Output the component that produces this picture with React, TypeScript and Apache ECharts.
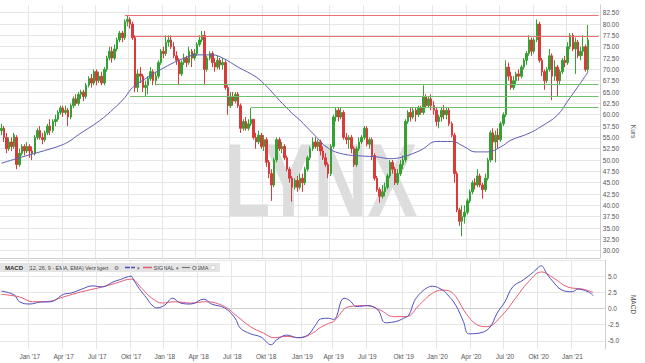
import React, { useEffect, useRef } from "react";
import * as echarts from "echarts";

const FONT = '"Liberation Sans", Arial, Helvetica, sans-serif';

// weekly categories, first Monday of the chart and number of weeks on the axis
const FIRST_WEEK = [2016, 9, 17];
const WEEK_COUNT = 233;

// weekly candles [open, close, low, high]
const candles: number[][] = [
  [56.5, 57, 55.5, 58], [57, 55, 54, 57.5], [55, 52.5, 51.5, 56], [52.5, 54, 52, 55], [54, 53, 52, 55],
  [53, 55.5, 52.5, 56], [55, 49, 48, 55.5], [49, 51.5, 48.5, 52.5], [51.5, 53, 51, 53.5], [53, 52, 51, 53.5],
  [52, 53, 51.5, 54], [53, 52, 50.5, 53.5], [52, 51.5, 50, 53], [51.5, 55, 51, 55.5], [55, 56.5, 54.5, 57],
  [56.5, 55, 54.5, 57.5], [55, 54.5, 53.5, 56], [54.5, 56, 54, 56.5], [56, 57.5, 55.5, 58], [57.5, 56.5, 55.5, 59],
  [56.5, 58.5, 56, 59], [58.5, 59, 57.5, 60], [59, 60.5, 58.5, 61], [60.5, 61.5, 60, 62], [61.5, 60.5, 59.5, 62],
  [60.5, 61, 60, 62], [61, 59.5, 57.5, 61.5], [59.5, 62, 59, 62.5], [62, 63.5, 61.5, 64], [63.5, 62.5, 62, 64.5],
  [62.5, 64.5, 62, 65], [64.5, 65, 63.5, 65.5], [65, 64, 63, 65.5], [64, 66.5, 63.5, 67], [66.5, 68, 66, 68.5],
  [68, 67, 66, 69], [67, 69.5, 66.5, 70], [69.5, 67.5, 66.5, 70], [67.5, 68.5, 67, 69.5], [68.5, 67, 66.5, 69.5],
  [67, 70, 66.5, 70.5], [70, 72.5, 69.5, 73], [72.5, 74, 72, 75], [74, 72.5, 71.5, 75], [72.5, 74.5, 72, 75.5],
  [74.5, 76.5, 74, 77], [76.5, 78, 76, 78.5], [78, 77, 76, 78.5], [77, 80.5, 76.5, 81], [80.5, 81, 79.5, 82],
  [81, 80, 79, 81.5], [80, 77, 76.5, 80.5], [77, 66, 65, 77.5], [66, 69, 65, 70], [69, 68.5, 67, 70.5],
  [68.5, 66, 65, 69], [66, 66.5, 64, 67.5], [66.5, 68, 64.5, 68.5], [68, 69.5, 67.5, 70.5], [69.5, 67.5, 66.5, 70],
  [67.5, 68.5, 66.5, 69.5], [68.5, 71.5, 68, 72], [71.5, 74, 71, 74.5], [74, 73.5, 72.5, 75], [73.5, 76, 73, 77.5],
  [76, 76.5, 75, 77.5], [76.5, 75, 74.5, 77.5], [75, 73, 72.5, 76], [73, 72, 71, 74], [72, 69, 66.5, 72.5],
  [69, 71.5, 68.5, 72], [71.5, 72.5, 71, 73.5], [72.5, 71.5, 70.5, 73], [71.5, 74, 71, 75], [74, 72.5, 70.5, 74.5],
  [72.5, 73.5, 72, 74.5], [73.5, 75.5, 73, 76], [75.5, 76.5, 75, 77.5], [76.5, 77.5, 76, 78.5], [77.5, 70, 66.5, 78.5],
  [70, 72.5, 69.5, 73], [72.5, 73.5, 72, 74], [73.5, 71.5, 70.5, 74], [71.5, 70.5, 69.5, 72.5], [70.5, 72, 70, 73],
  [72, 71, 70, 72.5], [71, 71.5, 70, 72.5], [71.5, 66, 65.5, 72], [66, 62, 60, 66.5], [62, 64, 61.5, 65],
  [64, 63, 62, 65], [63, 64.5, 62.5, 65], [64.5, 62, 61.5, 65], [62, 57, 56, 62.5], [57, 58.5, 56.5, 59],
  [58.5, 57, 56.5, 59.5], [57, 58, 56.5, 59], [58, 59, 57.5, 61.5], [59, 55, 54.5, 59], [55, 54, 52.5, 56],
  [54, 55.5, 53.5, 56.5], [55.5, 53, 52.5, 56], [53, 54.5, 52, 55.5], [54.5, 49.5, 48.5, 55], [49.5, 47, 46, 50],
  [47, 44.5, 41, 48], [44.5, 50, 44, 50.5], [50, 54.5, 49.5, 55], [54.5, 52.5, 52, 55], [52.5, 53, 51.5, 54],
  [53, 50.5, 50, 53.5], [50.5, 48, 47.5, 51], [48, 46, 45, 48.5], [46, 44, 40.8, 46.5], [44, 45.5, 43.5, 46],
  [45.5, 44, 43, 46.5], [44, 46, 43.5, 47], [46, 45, 43, 47], [45, 48, 44.5, 48.5], [48, 50.5, 47.5, 51],
  [50.5, 52.5, 50, 53], [52.5, 54, 52, 55], [54, 53, 52.5, 55], [53, 54, 52, 54.5], [54, 52, 51, 54.5],
  [52, 50.5, 50, 53], [50.5, 49, 48.5, 51.5], [49, 47, 46, 49.5], [47, 53, 46.5, 53.5], [53, 59.5, 52.5, 60],
  [59.5, 61, 58.5, 61.5], [61, 59.5, 58.5, 61.7], [59.5, 60.5, 59, 61.5], [60.5, 55, 54.5, 61], [55, 54.5, 53.5, 56],
  [54.5, 55, 52.5, 55.5], [55, 52.5, 51.5, 55.5], [52.5, 49, 48.5, 53], [49, 52.5, 48.5, 53], [52.5, 54, 52, 55],
  [54, 55, 53.5, 55.5], [55, 57, 54.5, 57.5], [57, 53.5, 53, 57.5], [53.5, 54.5, 52.5, 55], [54.5, 51, 50, 55],
  [51, 46, 45.5, 51.5], [46, 43.5, 43, 46.5], [43.5, 42, 40.6, 44], [42, 43, 41.5, 44.5], [43, 44, 42, 45],
  [44, 46.5, 43.5, 47], [46.5, 49.5, 46, 50], [49.5, 48, 47, 50], [48, 45, 44.5, 48.5], [45, 47, 44.5, 48],
  [47, 49, 46.5, 50], [49, 50, 48, 51], [50, 58.5, 49.5, 59], [58.5, 60.5, 58, 61], [60.5, 59.5, 58.5, 61.5],
  [59.5, 61, 59, 61.5], [61, 60, 58.5, 61.5], [60, 61.5, 59.5, 62], [61.5, 60.5, 60, 62], [60.5, 64, 60, 66.5],
  [64, 62, 61.5, 64.5], [62, 63.5, 61.5, 64], [63.5, 62, 61, 64.5], [62, 61, 60, 63], [61, 58.5, 57.5, 61.5],
  [58.5, 59.5, 57, 60], [59.5, 61, 58.5, 61.5], [61, 60, 59, 62.1], [60, 61, 59, 61.5], [61, 58, 57.5, 61.5],
  [58, 55.5, 55, 58.5], [55.5, 47, 45, 56], [47, 39, 38.5, 47.5], [39, 36.5, 35.5, 39.5], [36.5, 37.5, 33.2, 40],
  [37.5, 38.5, 36, 40], [38.5, 41, 38, 41.5], [41, 43, 40.5, 43.5], [43, 45, 42.5, 45.5], [45, 44.5, 43.5, 46],
  [44.5, 46.5, 44, 48], [46.5, 44.5, 44, 47], [44.5, 43.5, 41.5, 45], [43.5, 46, 43, 47], [46, 50, 45.5, 50.5],
  [50, 56, 49.5, 56.5], [56, 54, 50, 57], [54, 55.5, 49.5, 56.5], [55.5, 54.5, 52.5, 57], [54.5, 58, 54, 58.5],
  [58, 60, 57.5, 60.5], [60, 70.5, 59.5, 72], [70.5, 68.5, 67.5, 71.5], [68.5, 66, 65.5, 69.5], [66, 67.5, 65.5, 68.5],
  [67.5, 69, 66.5, 69.5], [69, 68.5, 67.5, 70], [68.5, 70.5, 68, 71], [70.5, 72, 70, 72.5], [72, 73.5, 71, 74],
  [73.5, 76.5, 73, 77.5], [76.5, 74, 73, 77], [74, 76.5, 73.5, 77], [76.5, 80, 76, 81], [80, 72, 71.5, 80.5],
  [72, 69.5, 68.5, 72.5], [69.5, 67.5, 65.5, 70], [67.5, 70, 67, 70.5], [70, 73, 69.5, 74.5], [73, 68.5, 63.2, 73.5],
  [68.5, 70.5, 67.5, 72], [70.5, 67.5, 64, 71], [67.5, 69.5, 66.5, 70], [69.5, 72, 69, 72.5], [72, 71.5, 70.5, 73],
  [71.5, 75, 71, 76], [75, 77.5, 74.5, 78], [77.5, 74.5, 74, 78], [74.5, 76, 69, 77], [76, 73, 72.5, 76.5],
  [73, 74, 72, 75], [74, 75, 73, 77.5], [75, 70, 69.5, 75.5], [70, 76.5, 69.5, 79.8],
];

// moving average: [week index, value]
const maPoints: number[][] = [
  [0, 49.3], [7, 50.5], [15, 51.8], [22, 53], [26, 54], [30, 55.6], [38, 58.6], [44, 61.5], [48, 63.8],
  [51, 66], [57, 68.3], [63, 70.3], [69, 72], [76, 73.2], [82, 73.2], [86, 72.5], [92, 70.5], [99, 68.3],
  [103, 66.3], [108, 63.2], [113, 60.3], [116, 58.8], [121, 55.9], [127, 52.6], [133, 51.3], [140, 50.9],
  [146, 50.7], [151, 50.3], [156, 50.7], [163, 52.2], [169, 54.1], [175, 54.1], [180, 52.9], [184, 51.8],
  [189, 51.8], [194, 52.9], [198, 54.4], [205, 55.9], [210, 57.5], [216, 59.9], [220, 63], [225, 67], [228, 69.5],
];

// MACD line and signal line: [week index, value]
const macdPoints: number[][] = [
  [0, 2.7], [5, 2.1], [7, 1.05], [11, 0.7], [15, 1.0], [19, 1.05], [24, 2.2], [27, 2.4], [31, 3.0], [35, 3.5],
  [39, 3.35], [43, 4.1], [46, 4.5], [50, 5.0], [51, 4.4], [53, 3.15], [56, 1.6], [58, 0.55], [60, 0.1], [63, 0.55],
  [66, 1.6], [69, 0.85], [73, 0.7], [78, 1.45], [81, 0.7], [86, 0.1], [90, -1.45], [92, -3.0], [96, -3.9],
  [100, -4.4], [104, -5.6], [106, -4.85], [110, -4.1], [114, -4.5], [118, -4.1], [121, -2.6], [123, -1.6],
  [126, -1.5], [128, -1.7], [132, 1.6], [134, 1.3], [137, 0.3], [141, 0.45], [145, -0.2], [148, -2.2],
  [152, -2.0], [155, -1.5], [157, -1.0], [159, 1.05], [161, 2.2], [164, 3.2], [166, 3.45], [170, 2.85],
  [172, 2.1], [175, 0.55], [178, -2.0], [180, -3.9], [184, -3.8], [188, -3.0], [191, -0.7], [194, 1.05],
  [197, 3.35], [201, 4.4], [205, 5.65], [208, 6.6], [210, 5.45], [212, 4.4], [216, 2.85], [220, 2.6],
  [222, 3.0], [226, 2.6], [228, 2.0],
];
const signalPoints: number[][] = [
  [0, 2.2], [7, 1.8], [12, 1.05], [17, 1.05], [24, 1.8], [31, 2.6], [38, 3.25], [44, 3.9], [50, 4.55],
  [54, 3.15], [58, 1.6], [62, 0.85], [67, 1.05], [73, 0.85], [79, 1.05], [86, 0.3], [91, -1.25], [96, -2.8],
  [101, -3.8], [105, -4.5], [110, -4.3], [115, -4.5], [121, -3.55], [122, -3.15], [126, -2.3], [128, -2.0],
  [134, 0.3], [141, 0.45], [146, -0.25], [151, -1.25], [156, -1.25], [161, 0.55], [166, 2.35], [170, 2.85],
  [174, 2.35], [179, -0.75], [183, -2.45], [187, -2.8], [193, -1.0], [198, 1.55], [203, 4.1], [208, 5.65],
  [213, 4.65], [218, 3.35], [224, 3.0], [228, 2.5],
];

// horizontal support / resistance levels
const levelValues = [82.0, 77.4, 66.7, 64.0, 61.6];
const levelStartWeeks = [48, 52, 60, 50, 97];
const levelKinds = ["resistance", "resistance", "support", "support", "support"];

const priceTicks = [30, 32.5, 35, 37.5, 40, 42.5, 45, 47.5, 50, 52.5, 55, 57.5, 60, 62.5, 65, 67.5, 70, 72.5, 75, 77.5, 80, 82.5];
const macdTicks = [-5, -2.5, 0, 2.5, 5];
const macdGridTicks = [-5, -2.5, 0, 2.5, 5, 7.5];
const monthNames: Record<number, string> = { 1: "Jan", 4: "Apr", 7: "Jul", 10: "Okt" };

function buildDates(): string[] {
  const out: string[] = [];
  const base = Date.UTC(FIRST_WEEK[0], FIRST_WEEK[1], FIRST_WEEK[2]);
  for (let i = 0; i < WEEK_COUNT; i++) {
    out.push(new Date(base + i * 7 * 86400000).toISOString().slice(0, 10));
  }
  return out;
}

function isQuarterStart(s: string): boolean {
  const [, m, d] = s.split("-").map(Number);
  return (m === 1 || m === 4 || m === 7 || m === 10) && d <= 7;
}

export default function App() {
  const ref = useRef<HTMLDivElement>(null);
  useEffect(() => {
    if (!ref.current) return;
    const chart = echarts.init(ref.current, undefined, { renderer: "svg" });
    const dates = buildDates();
    const qi = (_i: number, v: string) => isQuarterStart(v);
    const grid = "#e6e6e6";
    const axisCol = "#cfcfcf";
    const labelCol = "#555";
    const fs = 6.5;
    const pts = (arr: number[][]) => arr.map(([i, v]) => [dates[i], v]);

    const levelLines = levelValues.map((v, k) => {
      const ls = { color: levelKinds[k] === "resistance" ? "#ea7070" : "#6fbf6f", width: 1, type: "solid", opacity: 1 };
      return [
        { coord: [dates[levelStartWeeks[k]], v], lineStyle: ls },
        { coord: [dates[WEEK_COUNT - 1], v], lineStyle: ls },
      ];
    });

    const xBase = (gridIndex: number, showLabel: boolean) => ({
      type: "category",
      gridIndex,
      data: dates,
      boundaryGap: true,
      axisLine: { show: true, lineStyle: { color: axisCol } },
      axisTick: { show: false, interval: qi },
      axisLabel: {
        show: showLabel,
        interval: qi,
        fontSize: fs,
        color: labelCol,
        margin: 4,
        formatter: (v: string) => {
          const [y, m] = v.split("-").map(Number);
          return `${monthNames[m]} '${String(y).slice(2)}`;
        },
      },
      splitLine: { show: true, interval: qi, lineStyle: { color: grid, width: 1 } },
    });

    const legendText = (x: number, text: string, size: number, bold = false) => ({
      type: "text",
      x,
      y: 267.5,
      style: {
        text,
        font: `${bold ? "bold " : ""}${size}px ${FONT}`,
        fill: bold ? "#333" : "#444",
        verticalAlign: "middle",
        textVerticalAlign: "middle",
      },
    });

    const option: any = {
      animation: false,
      textStyle: { fontFamily: FONT },
      grid: [
        { left: 0, right: 35, top: 5, height: 253 },
        { left: 0, right: 35, top: 260, height: 89 },
      ],
      xAxis: [xBase(0, false), xBase(1, true)],
      yAxis: [
        {
          type: "value",
          gridIndex: 0,
          position: "right",
          min: 28.4,
          max: 84.2,
          axisLine: { show: true, lineStyle: { color: axisCol } },
          axisTick: { show: false, customValues: priceTicks },
          axisLabel: { customValues: priceTicks, formatter: (v: number) => v.toFixed(2), fontSize: fs, color: labelCol, margin: 3 },
          splitLine: { show: true, lineStyle: { color: grid, width: 1 } },
          name: "Kurs",
          nameLocation: "middle",
          nameRotate: -90,
          nameGap: 26,
          nameTextStyle: { fontSize: fs, color: labelCol },
        },
        {
          type: "value",
          gridIndex: 1,
          position: "right",
          min: -6.25,
          max: 7.5,
          axisLine: { show: true, lineStyle: { color: axisCol } },
          axisTick: { show: false, customValues: macdGridTicks },
          axisLabel: { customValues: macdTicks, formatter: (v: number) => v.toFixed(1), fontSize: fs, color: labelCol, margin: 3 },
          splitLine: { show: true, lineStyle: { color: grid, width: 1 } },
          name: "MACD",
          nameLocation: "middle",
          nameRotate: -90,
          nameGap: 22,
          nameTextStyle: { fontSize: fs, color: labelCol },
        },
      ],
      graphic: [
        {
          type: "text",
          z: 1,
          x: 321,
          y: 180,
          scaleX: 0.72,
          silent: true,
          style: {
            text: "LYNX",
            font: `bold 104px ${FONT}`,
            fill: "#dddddd",
            align: "center",
            verticalAlign: "middle",
            textAlign: "center",
            textVerticalAlign: "middle",
          },
        },
        {
          type: "group",
          z: 10,
          children: [
            { type: "rect", shape: { x: 0, y: 263, width: 220, height: 9 }, style: { fill: "#e4e4e4" } },
            legendText(5, "MACD", 6, true),
            legendText(28, "(12, 26, 9 - EMA, EMA) Verzögert", 5.4),
            { type: "text", x: 114, y: 267.5, style: { text: "⚙", font: `5.5px "DejaVu Sans"`, fill: "#555", verticalAlign: "middle", textVerticalAlign: "middle" } },
            { type: "line", shape: { x1: 125, y1: 267.5, x2: 135, y2: 267.5 }, style: { stroke: "#4b4bc8", lineWidth: 1.5 } },
            { type: "text", x: 137, y: 267.5, style: { text: "▾", font: `5px "DejaVu Sans"`, fill: "#666", verticalAlign: "middle", textVerticalAlign: "middle" } },
            { type: "line", shape: { x1: 143, y1: 267.5, x2: 152, y2: 267.5 }, style: { stroke: "#e35a72", lineWidth: 1.5 } },
            legendText(153.5, "SIGNAL", 5.6),
            { type: "text", x: 176, y: 267.5, style: { text: "▾", font: `5px "DejaVu Sans"`, fill: "#666", verticalAlign: "middle", textVerticalAlign: "middle" } },
            { type: "line", shape: { x1: 182, y1: 267.5, x2: 190, y2: 267.5 }, style: { stroke: "#777", lineWidth: 1.2 } },
            legendText(192, "OSMA", 5.6),
            { type: "rect", shape: { x: 211, y: 265.5, width: 4, height: 4 }, style: { fill: "#fff", stroke: "#bbb", lineWidth: 0.5 } },
          ],
        },
      ],
      series: [
        {
          type: "candlestick",
          xAxisIndex: 0,
          yAxisIndex: 0,
          data: candles,
          barWidth: 2,
          itemStyle: {
            color: "#35a135",
            color0: "#d93a3a",
            borderColor: "#35a135",
            borderColor0: "#d93a3a",
            borderWidth: 1,
          },
        },
        {
          type: "line",
          xAxisIndex: 0,
          yAxisIndex: 0,
          data: pts(maPoints),
          smooth: 0.4,
          showSymbol: false,
          lineStyle: { color: "#5e5eb4", width: 1 },
          markLine: {
            silent: true,
            symbol: "none",
            label: { show: false },
            lineStyle: { type: "solid", width: 1 },
            emphasis: { disabled: true },
            data: levelLines,
          },
        },
        {
          type: "line",
          xAxisIndex: 1,
          yAxisIndex: 1,
          data: pts(signalPoints),
          smooth: 0.4,
          showSymbol: false,
          lineStyle: { color: "#e85c74", width: 1 },
        },
        {
          type: "line",
          xAxisIndex: 1,
          yAxisIndex: 1,
          data: pts(macdPoints),
          smooth: 0.4,
          showSymbol: false,
          lineStyle: { color: "#4f4fc4", width: 1 },
        },
      ],
    };
    chart.setOption(option);
    return () => chart.dispose();
  }, []);
  return (
    <div
      ref={ref}
      style={{ position: "absolute", left: 0, top: 0, width: 645, height: 363, background: "#fff" }}
    />
  );
}
